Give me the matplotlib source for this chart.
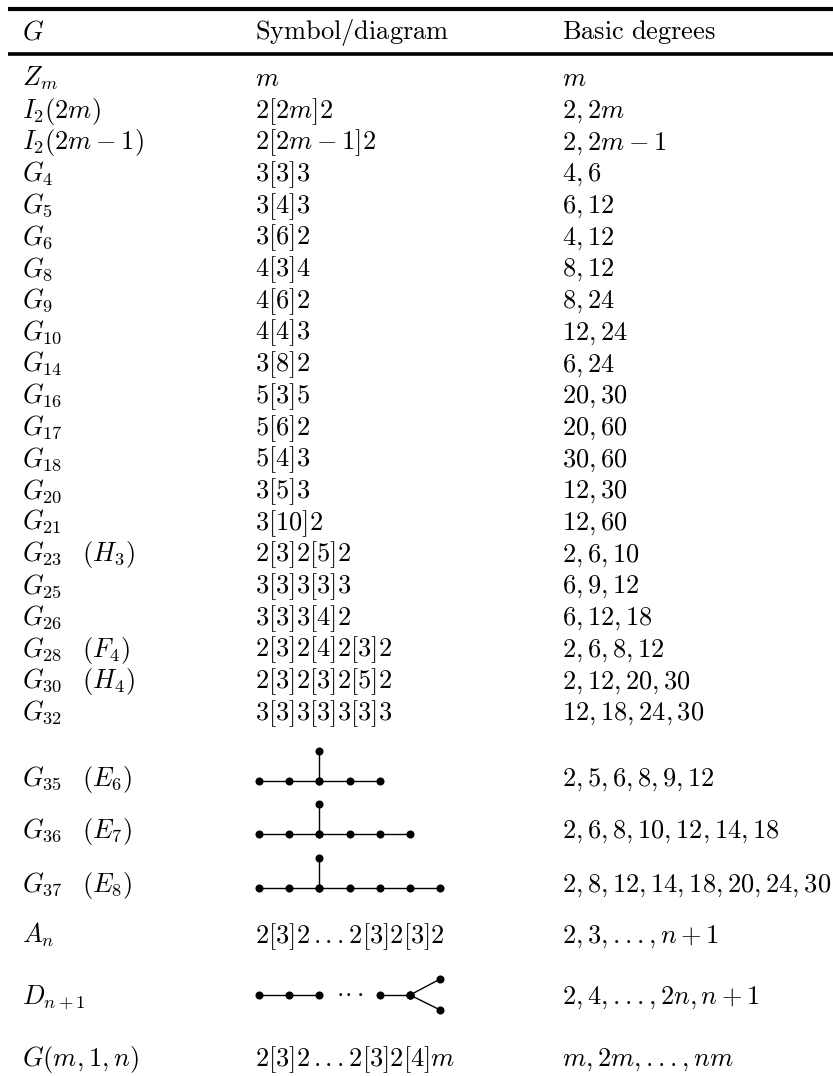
import matplotlib
matplotlib.use('Agg')
import matplotlib.pyplot as plt

plt.rcParams['mathtext.fontset'] = 'cm'

# table contents
header = [r'$G$', r'$\mathrm{Symbol/diagram}$', r'$\mathrm{Basic\ degrees}$']

groups = [r'$Z_m$', r'$I_2(2m)$', r'$I_2(2m-1)$', r'$G_4$', r'$G_5$', r'$G_6$', r'$G_8$',
          r'$G_9$', r'$G_{10}$', r'$G_{14}$', r'$G_{16}$', r'$G_{17}$', r'$G_{18}$',
          r'$G_{20}$', r'$G_{21}$', r'$G_{23}\quad\!(H_3)$', r'$G_{25}$', r'$G_{26}$',
          r'$G_{28}\quad\!(F_4)$', r'$G_{30}\quad\!(H_4)$', r'$G_{32}$',
          r'$G_{35}\quad\!(E_6)$', r'$G_{36}\quad\!(E_7)$', r'$G_{37}\quad\!(E_8)$',
          r'$A_n$', r'$D_{n+1}$', r'$G(m,1,n)$']

symbols = [r'$m$', r'$2[2m]2$', r'$2[2m-1]2$', r'$3[3]3$', r'$3[4]3$', r'$3[6]2$', r'$4[3]4$',
           r'$4[6]2$', r'$4[4]3$', r'$3[8]2$', r'$5[3]5$', r'$5[6]2$', r'$5[4]3$',
           r'$3[5]3$', r'$3[10]2$', r'$2[3]2[5]2$', r'$3[3]3[3]3$', r'$3[3]3[4]2$',
           r'$2[3]2[4]2[3]2$', r'$2[3]2[3]2[5]2$', r'$3[3]3[3]3[3]3$',
           None, None, None,
           r'$2[3]2\,...2[3]2[3]2$', None, r'$2[3]2\,...2[3]2[4]m$']

degrees = [r'$m$', r'$2,2m$', r'$2,2m-1$', r'$4,6$', r'$6,12$', r'$4,12$', r'$8,12$',
           r'$8,24$', r'$12,24$', r'$6,24$', r'$20,30$', r'$20,60$', r'$30,60$',
           r'$12,30$', r'$12,60$', r'$2,6,10$', r'$6,9,12$', r'$6,12,18$',
           r'$2,6,8,12$', r'$2,12,20,30$', r'$12,18,24,30$',
           r'$2,5,6,8,9,12$', r'$2,6,8,10,12,14,18$', r'$2,8,12,14,18,20,24,30$',
           r'$2,3,...,n+1$', r'$2,4,...,2n,n+1$', r'$m,2m,...,nm$']

# Dynkin diagrams: row index -> number of nodes on the chain
chain_nodes = {21: 5, 22: 6, 23: 7}

fig = plt.figure(figsize=(8.33, 10.76), dpi=100)
ax = fig.add_axes([0, 0, 1, 1])
ax.set_xlim(0, 833)
ax.set_ylim(1076, 0)
ax.axis('off')

fs = 19
col_x = [22, 255, 562]

# baselines of the rows, the taller ones at the bottom are set by hand
row_y = [86 + 31.7 * i for i in range(21)] + [786, 838, 892, 943, 1004, 1066]

ax.plot([8, 833], [9, 9], color='black', lw=3, solid_capstyle='butt')
ax.plot([8, 833], [54, 54], color='black', lw=2.6, solid_capstyle='butt')

for x, h in zip(col_x, header):
    ax.text(x, 39, h, fontsize=fs, va='baseline', ha='left')

for i in range(len(groups)):
    ax.text(col_x[0], row_y[i], groups[i], fontsize=fs, va='baseline', ha='left')
    if symbols[i] is not None:
        ax.text(col_x[1], row_y[i], symbols[i], fontsize=fs, va='baseline', ha='left')
    ax.text(col_x[2], row_y[i], degrees[i], fontsize=fs, va='baseline', ha='left')

x0 = 259
dx = 30.2


def node_line(xs, ys):
    ax.plot(xs, ys, color='black', lw=1.0, marker='o', ms=5.8, mew=0, zorder=3)


# E6, E7, E8: chain with a branch above the third node
for row, y in zip(chain_nodes, [781, 834, 888]):
    n = chain_nodes[row]
    node_line([x0 + dx * k for k in range(n)], [y] * n)
    node_line([x0 + dx * 2, x0 + dx * 2], [y, y - 30])

# D_{n+1}: chain, dots, chain, fork
y = 995
node_line([x0 + dx * k for k in range(3)], [y] * 3)
ax.text(x0 + dx * 3, y + 4, r'$\cdot\!\cdot\!\cdot$', fontsize=fs, va='baseline', ha='center')
node_line([x0 + dx * 4, x0 + dx * 5], [y, y])
node_line([x0 + dx * 5, x0 + dx * 6], [y, y - 16])
node_line([x0 + dx * 5, x0 + dx * 6], [y, y + 15])

fig.savefig('out.png', dpi=100)
